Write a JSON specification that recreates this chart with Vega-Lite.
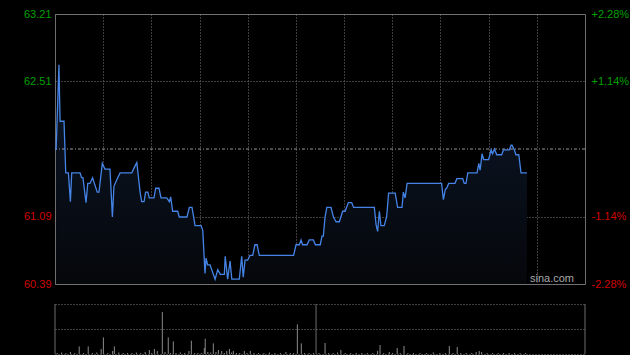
{
  "$schema": "https://vega.github.io/schema/vega-lite/v6.json",
  "background": "#000000",
  "padding": {"left": 22, "top": 7, "right": 0, "bottom": 0},
  "spacing": 20,
  "bounds": "flush",
  "config": {
    "font": "Liberation Sans",
    "axis": {"labelFont": "Liberation Sans", "labelFontSize": 11, "ticks": false, "domain": false, "title": null}
  },
  "datasets": {
    "price": [
      {"m": 0.5, "p": 61.79}, {"m": 1.8, "p": 62.68}, {"m": 2.3, "p": 62.09}, {"m": 4.1, "p": 62.09},
      {"m": 4.9, "p": 61.55}, {"m": 6.1, "p": 61.55}, {"m": 7.0, "p": 61.25}, {"m": 7.6, "p": 61.55},
      {"m": 11.4, "p": 61.55}, {"m": 12.1, "p": 61.50}, {"m": 12.7, "p": 61.50}, {"m": 14.1, "p": 61.24},
      {"m": 14.9, "p": 61.44}, {"m": 15.9, "p": 61.44}, {"m": 17.1, "p": 61.50}, {"m": 19.2, "p": 61.35},
      {"m": 20.0, "p": 61.35}, {"m": 21.5, "p": 61.65}, {"m": 22.7, "p": 61.59}, {"m": 25.0, "p": 61.59},
      {"m": 26.1, "p": 61.09}, {"m": 26.8, "p": 61.41}, {"m": 28.3, "p": 61.49}, {"m": 29.6, "p": 61.55},
      {"m": 34.9, "p": 61.55}, {"m": 35.9, "p": 61.60}, {"m": 37.2, "p": 61.66}, {"m": 38.7, "p": 61.35},
      {"m": 39.4, "p": 61.25}, {"m": 40.5, "p": 61.25}, {"m": 41.2, "p": 61.35}, {"m": 42.2, "p": 61.35},
      {"m": 42.9, "p": 61.29}, {"m": 45.0, "p": 61.29}, {"m": 45.8, "p": 61.39}, {"m": 47.3, "p": 61.39},
      {"m": 48.2, "p": 61.29}, {"m": 50.8, "p": 61.29}, {"m": 52.0, "p": 61.25}, {"m": 52.6, "p": 61.30},
      {"m": 53.5, "p": 61.15}, {"m": 55.8, "p": 61.15}, {"m": 56.5, "p": 61.09}, {"m": 60.0, "p": 61.09},
      {"m": 61.1, "p": 61.19}, {"m": 62.3, "p": 61.19}, {"m": 63.7, "p": 61.00}, {"m": 66.4, "p": 61.00},
      {"m": 67.2, "p": 60.95}, {"m": 68.2, "p": 60.50}, {"m": 68.7, "p": 60.66}, {"m": 69.4, "p": 60.59},
      {"m": 70.5, "p": 60.59}, {"m": 72.8, "p": 60.44}, {"m": 74.0, "p": 60.54}, {"m": 75.2, "p": 60.49},
      {"m": 77.0, "p": 60.49}, {"m": 77.4, "p": 60.68}, {"m": 78.5, "p": 60.44}, {"m": 79.6, "p": 60.63},
      {"m": 80.4, "p": 60.44}, {"m": 83.8, "p": 60.44}, {"m": 84.9, "p": 60.68}, {"m": 85.6, "p": 60.46},
      {"m": 86.4, "p": 60.64}, {"m": 87.6, "p": 60.64}, {"m": 88.7, "p": 60.69}, {"m": 89.9, "p": 60.69},
      {"m": 90.9, "p": 60.80}, {"m": 91.9, "p": 60.80}, {"m": 92.9, "p": 60.69}, {"m": 108.5, "p": 60.69},
      {"m": 109.6, "p": 60.80}, {"m": 111.1, "p": 60.80}, {"m": 111.9, "p": 60.85}, {"m": 112.6, "p": 60.80},
      {"m": 114.6, "p": 60.80}, {"m": 115.6, "p": 60.85}, {"m": 117.5, "p": 60.85}, {"m": 118.4, "p": 60.80},
      {"m": 120.6, "p": 60.80}, {"m": 121.4, "p": 60.89}, {"m": 122.0, "p": 60.89}, {"m": 122.8, "p": 61.09},
      {"m": 123.6, "p": 61.19}, {"m": 125.5, "p": 61.19}, {"m": 126.6, "p": 61.09}, {"m": 127.8, "p": 61.04},
      {"m": 129.3, "p": 61.04}, {"m": 130.8, "p": 61.15}, {"m": 131.9, "p": 61.15}, {"m": 133.4, "p": 61.24},
      {"m": 134.9, "p": 61.24}, {"m": 135.8, "p": 61.19}, {"m": 145.2, "p": 61.19}, {"m": 146.0, "p": 61.01},
      {"m": 146.7, "p": 60.94}, {"m": 147.5, "p": 61.15}, {"m": 148.2, "p": 61.00}, {"m": 149.7, "p": 61.00},
      {"m": 150.8, "p": 61.09}, {"m": 151.7, "p": 61.34}, {"m": 154.7, "p": 61.34}, {"m": 155.8, "p": 61.19},
      {"m": 157.8, "p": 61.19}, {"m": 158.4, "p": 61.35}, {"m": 159.2, "p": 61.29}, {"m": 160.1, "p": 61.44},
      {"m": 175.8, "p": 61.44}, {"m": 176.6, "p": 61.27}, {"m": 177.5, "p": 61.38}, {"m": 178.1, "p": 61.39},
      {"m": 179.0, "p": 61.44}, {"m": 181.9, "p": 61.44}, {"m": 182.7, "p": 61.49}, {"m": 185.4, "p": 61.49},
      {"m": 186.1, "p": 61.44}, {"m": 186.9, "p": 61.44}, {"m": 187.7, "p": 61.55}, {"m": 191.9, "p": 61.55},
      {"m": 192.7, "p": 61.65}, {"m": 193.3, "p": 61.58}, {"m": 194.2, "p": 61.75}, {"m": 194.9, "p": 61.69},
      {"m": 197.2, "p": 61.69}, {"m": 198.3, "p": 61.79}, {"m": 199.0, "p": 61.75}, {"m": 199.8, "p": 61.80},
      {"m": 200.9, "p": 61.74}, {"m": 203.1, "p": 61.74}, {"m": 203.9, "p": 61.79}, {"m": 206.6, "p": 61.79},
      {"m": 207.4, "p": 61.84}, {"m": 207.8, "p": 61.84}, {"m": 208.9, "p": 61.79}, {"m": 209.6, "p": 61.74},
      {"m": 210.9, "p": 61.74}, {"m": 211.9, "p": 61.55}, {"m": 214.6, "p": 61.55}
    ],
    "volume": [
      {"m": 1, "v": 1}, {"m": 3, "v": 1.5}, {"m": 5, "v": 1}, {"m": 7, "v": 2}, {"m": 9, "v": 1},
      {"m": 11, "v": 7.6}, {"m": 13, "v": 1}, {"m": 15.1, "v": 7.6}, {"m": 17, "v": 1}, {"m": 19, "v": 1.5},
      {"m": 21, "v": 5}, {"m": 22, "v": 16.6}, {"m": 24, "v": 1}, {"m": 26.2, "v": 3}, {"m": 27, "v": 7.6},
      {"m": 29, "v": 1.5}, {"m": 31, "v": 1}, {"m": 33, "v": 1}, {"m": 35, "v": 1}, {"m": 37, "v": 1.5},
      {"m": 39, "v": 1}, {"m": 41, "v": 2}, {"m": 42.9, "v": 4}, {"m": 44, "v": 1}, {"m": 45.2, "v": 5},
      {"m": 46.5, "v": 3}, {"m": 48.8, "v": 42}, {"m": 50, "v": 2}, {"m": 51.5, "v": 16.6}, {"m": 52.5, "v": 1},
      {"m": 53.8, "v": 12.6}, {"m": 55, "v": 1}, {"m": 57, "v": 1.5}, {"m": 59, "v": 1}, {"m": 60.9, "v": 3},
      {"m": 62, "v": 13.3}, {"m": 63.5, "v": 1}, {"m": 65, "v": 1}, {"m": 66.5, "v": 1}, {"m": 67.9, "v": 6},
      {"m": 68.3, "v": 15.3}, {"m": 69.5, "v": 2}, {"m": 70.8, "v": 1.5}, {"m": 72, "v": 10.6}, {"m": 73.2, "v": 2},
      {"m": 74.3, "v": 4}, {"m": 75.8, "v": 3}, {"m": 77, "v": 1}, {"m": 78.1, "v": 3}, {"m": 79.3, "v": 5},
      {"m": 80.3, "v": 1.5}, {"m": 81.1, "v": 3}, {"m": 82.5, "v": 1}, {"m": 84, "v": 1}, {"m": 86.1, "v": 3},
      {"m": 87.3, "v": 1}, {"m": 88.8, "v": 3}, {"m": 90.5, "v": 1}, {"m": 92.5, "v": 1}, {"m": 95, "v": 1},
      {"m": 97.5, "v": 1.5}, {"m": 100, "v": 1}, {"m": 102.5, "v": 1}, {"m": 105, "v": 2}, {"m": 107, "v": 1},
      {"m": 108.5, "v": 1}, {"m": 110.2, "v": 29.6}, {"m": 112, "v": 10.6}, {"m": 113.5, "v": 1}, {"m": 115.5, "v": 1},
      {"m": 117.5, "v": 1}, {"m": 120, "v": 1}, {"m": 122.8, "v": 11}, {"m": 124.5, "v": 1}, {"m": 126.5, "v": 1},
      {"m": 128.5, "v": 1.5}, {"m": 130, "v": 4}, {"m": 132, "v": 1}, {"m": 134.5, "v": 1}, {"m": 137, "v": 1},
      {"m": 139.5, "v": 1}, {"m": 142, "v": 1}, {"m": 144.5, "v": 1}, {"m": 146.7, "v": 3}, {"m": 147.8, "v": 9},
      {"m": 149.5, "v": 1}, {"m": 152, "v": 2}, {"m": 153.5, "v": 1}, {"m": 155.6, "v": 6}, {"m": 157, "v": 1},
      {"m": 158.7, "v": 8}, {"m": 160.5, "v": 1}, {"m": 163, "v": 1}, {"m": 166, "v": 1}, {"m": 169, "v": 1},
      {"m": 172, "v": 1.5}, {"m": 175, "v": 1}, {"m": 177.5, "v": 1}, {"m": 179.3, "v": 8}, {"m": 181, "v": 1},
      {"m": 182.9, "v": 7}, {"m": 184.5, "v": 1}, {"m": 187, "v": 1}, {"m": 189.5, "v": 1}, {"m": 191.5, "v": 2},
      {"m": 192.9, "v": 3}, {"m": 194, "v": 2}, {"m": 196.5, "v": 1}, {"m": 199, "v": 1}, {"m": 201.5, "v": 1},
      {"m": 204, "v": 1}, {"m": 206.5, "v": 1}, {"m": 209, "v": 1}, {"m": 211.5, "v": 1}, {"m": 214, "v": 1}
    ]
  },
  "vconcat": [
    {
      "width": 530,
      "height": 270,
      "view": {"stroke": "#6e6e6e", "strokeWidth": 1},
      "layer": [
        {
          "data": {"name": "price"},
          "mark": {"type": "area", "color": {"gradient": "linear", "x1": 0, "y1": 0, "x2": 0, "y2": 1, "stops": [{"offset": 0, "color": "#0d1829"}, {"offset": 1, "color": "#05070b"}]}},
          "encoding": {
            "x": {"field": "m", "type": "quantitative", "scale": {"domain": [0, 241], "nice": false}, "axis": {"values": [21.909, 43.818, 65.727, 87.636, 109.545, 131.455, 153.364, 175.273, 197.182, 219.091], "grid": true, "gridColor": "#7a7a7a", "gridDash": [1, 2], "labels": false}},
            "y": {"field": "p", "type": "quantitative", "scale": {"domain": [60.39, 63.21], "zero": false, "nice": false}, "axis": {"orient": "left", "values": [63.21, 62.51, 61.09, 60.39], "labelPadding": 4, "labelColor": {"condition": {"test": "datum.value > 61.8", "value": "#00a000"}, "value": "#d00000"}, "grid": true, "gridColor": "#7a7a7a", "gridDash": [1, 2], "format": ".2f"}},
            "y2": {"datum": 60.39}
          }
        },
        {
          "data": {"values": [{"p": 61.8}]},
          "mark": {"type": "rule", "color": "#9a9a9a", "strokeDash": [3, 2, 1, 2], "strokeWidth": 1},
          "encoding": {"y": {"field": "p", "type": "quantitative", "axis": null}}
        },
        {
          "data": {"name": "price"},
          "mark": {"type": "line", "color": "#4584e6", "strokeWidth": 1.3, "interpolate": "linear"},
          "encoding": {
            "x": {"field": "m", "type": "quantitative", "axis": null},
            "y": {"field": "p", "type": "quantitative", "axis": {"orient": "right", "values": [63.21, 62.51, 61.09, 60.39], "labelPadding": 6, "grid": false, "labelColor": {"condition": {"test": "datum.value > 61.8", "value": "#00a000"}, "value": "#d00000"}, "labelExpr": "datum.value > 63 ? '+2.28%' : datum.value > 62 ? '+1.14%' : datum.value > 61 ? '-1.14%' : '-2.28%'"}}
          }
        },
        {
          "data": {"values": [{"m": 236, "p": 60.395, "t": "sina.com"}]},
          "mark": {"type": "text", "align": "right", "baseline": "bottom", "color": "#a8a8a8", "fontSize": 11, "font": "Liberation Sans"},
          "encoding": {"x": {"field": "m", "type": "quantitative", "axis": null}, "y": {"field": "p", "type": "quantitative", "axis": null}, "text": {"field": "t"}}
        }
      ],
      "resolve": {"axis": {"y": "independent", "x": "independent"}}
    },
    {
      "width": 530,
      "height": 50,
      "view": {"stroke": null},
      "layer": [
        {
          "data": {"name": "volume"},
          "mark": {"type": "rule", "color": "#8a8a8a", "strokeWidth": 1},
          "encoding": {
            "x": {"field": "m", "type": "quantitative", "scale": {"domain": [0, 241], "nice": false}, "axis": null},
            "y": {"field": "v", "type": "quantitative", "scale": {"domain": [0, 50], "nice": false}, "axis": {"values": [0, 25, 50], "labels": false, "grid": true, "gridColor": "#7a7a7a", "gridDash": [1, 2]}},
            "y2": {"datum": 0}
          }
        },
        {
          "data": {"values": [{"m": 0}, {"m": 118.7}, {"m": 241}]},
          "mark": {"type": "rule", "color": "#6e6e6e", "strokeWidth": 1},
          "encoding": {"x": {"field": "m", "type": "quantitative"}}
        }
      ]
    }
  ]
}
